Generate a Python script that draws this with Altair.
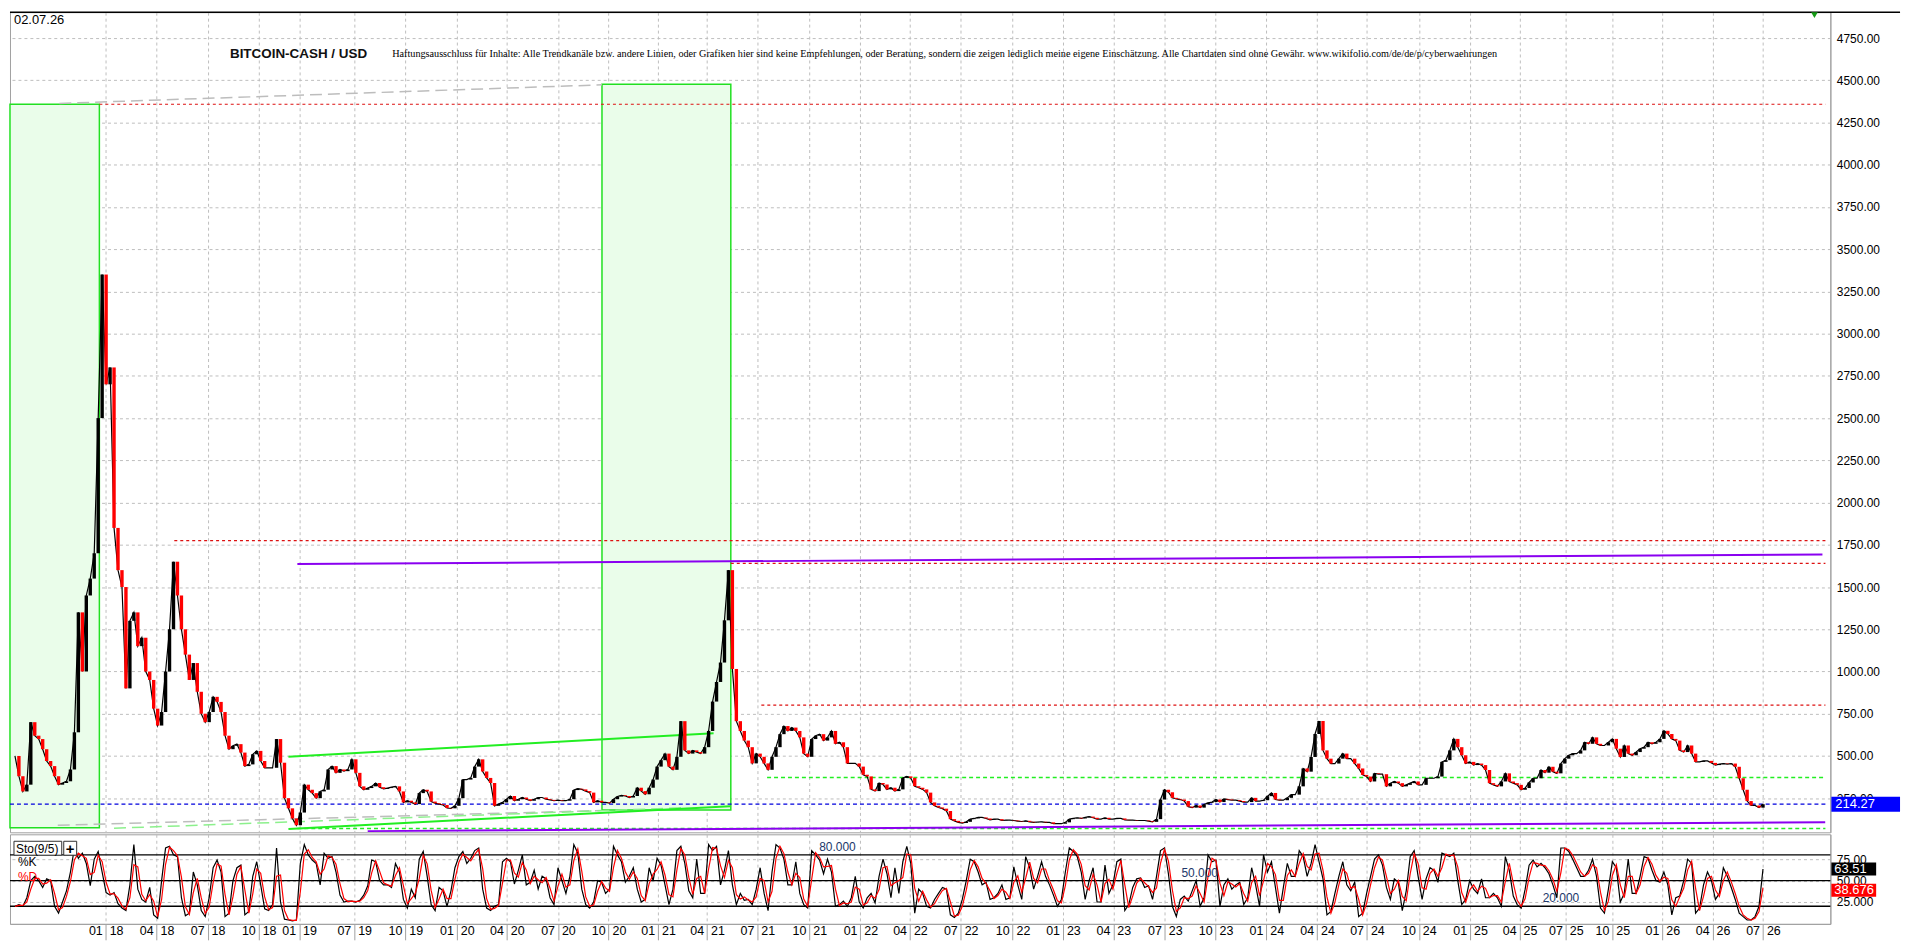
import json
import altair as alt
import pandas as pd

# ---------------- data (one sample ~ every 4 px) ----------------
close = [
    500, 380, 290, 330, 700, 620, 600, 540, 470, 440,
    380, 330, 340, 350, 420, 640, 1350, 1000, 1450, 1550,
    1700, 2500, 3350, 2700, 2800, 1850, 1600, 1500, 900, 1300,
    1350, 1150, 1200, 1000, 950, 780, 680, 760, 1000, 1250,
    1650, 1450, 1250, 1100, 950, 1050, 880, 750, 700, 760,
    850, 820, 760, 620, 540, 560, 570, 520, 440, 450,
    510, 530, 470, 430, 430, 430, 600, 460, 250, 190,
    130, 90, 165, 330, 300, 280, 250, 290, 300, 420,
    440, 400, 420, 410, 420, 480, 400, 320, 300, 310,
    320, 340, 315, 305, 310, 315, 320, 290, 225, 235,
    225, 215, 280, 300, 290, 230, 220, 215, 210, 192,
    190, 205, 250, 360, 360, 370, 437, 480, 408, 370,
    340, 205, 215, 225, 244, 263, 235, 244, 254, 244,
    235, 244, 254, 254, 244, 240, 235, 238, 235, 235,
    244, 298, 306, 302, 292, 283, 225, 235, 225, 225,
    221, 244, 260, 267, 263, 254, 263, 312, 292, 273,
    312, 360, 437, 475, 514, 437, 418, 495, 706, 533,
    514, 533, 523, 514, 552, 648, 822, 938, 1053, 1303,
    1600, 1015, 706, 648, 591, 552, 456, 514, 495, 456,
    418, 495, 552, 629, 677, 648, 668, 648, 610, 514,
    495, 600, 620, 629, 591, 610, 648, 572, 581, 552,
    456, 456, 456, 437, 389, 379, 302, 292, 340, 331,
    302, 312, 292, 302, 370, 379, 370, 321, 312, 302,
    283, 225, 205, 195, 188, 174, 126, 116, 107, 103,
    110, 126, 130, 136, 136, 130, 122, 126, 126, 118,
    120, 120, 118, 114, 112, 116, 110, 107, 109, 110,
    107, 107, 99, 99, 99, 107, 126, 130, 134, 130,
    136, 141, 134, 126, 126, 134, 126, 126, 130, 130,
    122, 120, 120, 118, 118, 118, 114, 110, 126, 242,
    300, 285, 252, 246, 242, 233, 200, 194, 207, 194,
    213, 223, 227, 242, 227, 246, 242, 238, 238, 233,
    227, 227, 252, 233, 233, 238, 262, 281, 242, 238,
    238, 252, 271, 271, 320, 426, 407, 494, 630, 707,
    533, 484, 455, 455, 484, 514, 484, 484, 455, 426,
    388, 378, 349, 397, 393, 392, 320, 339, 349, 339,
    320, 329, 339, 349, 329, 329, 368, 368, 368, 378,
    465, 475, 533, 601, 552, 504, 455, 465, 446, 455,
    446, 417, 339, 329, 320, 349, 397, 349, 339, 329,
    300, 310, 343, 368, 368, 417, 401, 436, 407, 397,
    455, 484, 504, 514, 514, 533, 581, 572, 610, 572,
    562, 562, 581, 601, 543, 494, 562, 514, 504, 523,
    543, 552, 581, 572, 581, 601, 649, 630, 601, 591,
    533, 523, 562, 514, 465, 465, 471, 471, 459, 446,
    452, 455, 452, 455, 436, 368, 300, 233, 207, 207,
    194, 214.27,
]

stoch_k = [
    20, 22, 20, 30, 50, 55, 50, 42, 52, 50,
    20, 12, 25, 38, 60, 88, 76, 82, 70, 44,
    75, 84, 60, 36, 33, 36, 23, 18, 15, 45,
    92, 40, 28, 25, 42, 10, 6, 50, 88, 90,
    80, 78, 30, 9, 12, 60, 45, 15, 8, 30,
    65, 74, 60, 8, 12, 50, 65, 68, 10, 14,
    55, 72, 45, 17, 15, 22, 88, 25, 5, 4,
    3, 4, 70, 92, 80, 74, 70, 45, 82, 76,
    78, 60, 33, 25, 26, 26, 25, 27, 33, 44,
    74, 72, 50, 45, 45, 42, 70, 60, 28, 18,
    40, 30, 75, 84, 55, 22, 15, 42, 38, 20,
    38, 65, 78, 84, 70, 76, 85, 88, 40, 18,
    15, 20, 22, 72, 76, 72, 46, 62, 80, 45,
    48, 62, 40, 55, 52, 30, 22, 65, 50, 35,
    55, 92, 82, 40, 22, 18, 25, 50, 48, 35,
    40, 90, 80, 72, 48, 55, 65, 40, 25, 28,
    65, 50, 76, 68, 45, 22, 40, 85, 90, 70,
    38, 30, 75, 35,
    35, 92, 85, 90, 45, 62, 85, 45, 22, 35,
    27, 28, 22, 40, 65, 35, 15, 60, 92, 88,
    75, 45, 45, 72, 35, 22, 18, 85, 80, 74,
    58, 75, 60, 20, 22, 26, 20, 30, 55, 25,
    18, 30, 35, 24, 55, 75, 58, 30, 65, 35,
    72, 90, 70, 12, 40, 35, 20, 18, 28, 35,
    42, 40, 10, 7, 12, 28, 50, 75, 72, 60,
    45, 48, 28, 30, 35, 45, 28, 30, 66, 45,
    28, 78, 65, 40, 55, 72, 55, 45, 33, 20,
    28, 60, 88, 84, 78, 60, 28, 50, 65, 25,
    25, 68, 35, 45, 72, 75, 15, 22, 42, 52,
    53, 42, 44, 28, 55, 85, 88, 58, 20, 8,
    28, 32, 26, 38, 50, 20, 30, 80, 72, 74,
    20, 45, 52, 40, 45, 48, 22,
    30, 65, 45, 20, 80, 60, 72, 42, 12, 42,
    70, 55, 55, 85, 78, 55, 70, 92, 72, 52,
    10, 14, 35, 55, 72, 45, 38, 48, 8, 12,
    35, 55, 75, 80, 68, 42, 28, 52, 48, 15,
    38, 78, 85, 55, 28, 52, 65, 62, 48, 82,
    80, 78, 82, 50, 22, 28, 50, 40, 35, 52,
    30, 30, 35, 30, 20, 78, 62, 32, 22, 18,
    40, 68, 74, 66, 70, 65, 58, 45, 30, 88,
    88, 84, 75, 65, 55, 55, 62, 75, 55, 18,
    12, 40, 72, 65, 25, 35, 75, 35, 35, 55,
    78, 76, 62, 50, 48, 60, 45, 10, 30, 32,
    50, 75, 70, 12, 18, 45, 60, 50, 28, 35,
    65, 55, 42, 28, 12, 8, 4, 4, 8, 20, 63.51,
]

# quarter ticks (sample index where each quarter starts) and their labels
tick_pos = [22.9, 35.75, 48.6, 61.5, 71.7, 85.6, 98.5, 111.5, 124.1, 137.0,
            149.75, 162.25, 174.6, 187.3, 200.4, 213.3, 225.8, 238.6, 251.7, 264.4,
            277.1, 290.1, 302.9, 315.7, 328.5, 341.1, 354.2, 367.1, 379.6, 391.25,
            403.0, 415.6, 428.3, 441.0]
tick_lab = ["01 18", "04 18", "07 18", "10 18", "01 19", "07 19", "10 19", "01 20", "04 20", "07 20",
            "10 20", "01 21", "04 21", "07 21", "10 21", "01 22", "04 22", "07 22", "10 22", "01 23",
            "04 23", "07 23", "10 23", "01 24", "04 24", "07 24", "10 24", "01 25", "04 25", "07 25",
            "10 25", "01 26", "04 26", "07 26"]

price_ticks = [250, 500, 750, 1000, 1250, 1500, 1750, 2000, 2250, 2500, 2750, 3000,
               3250, 3500, 3750, 4000, 4250, 4500, 4750]
stoch_ticks = [25, 50, 75]
stoch_levels = [20, 50, 80]
stoch_level_text = ["20.000", "50.000", "80.000"]

last_price = 214.27
last_k = 63.51
last_d = 38.676

# drawn objects (index / price coordinates)
zone_x0 = [-1.25, 148.1]
zone_x1 = [21.3, 180.6]
zone_lo = [75, 180]
zone_hi = [4358, 4476]

red_level = [4358, 1775, 1640, 801]
red_start = [21.3, 40.2, 180.6, 188.3]
green_level = [372, 70]
green_start = [189.75, 71.25]
line_end = 456.75

purple_x0 = [71.25, 89]
purple_y0 = [1636, 55]
purple_x1 = [456, 456.7]
purple_y1 = [1693, 108]

trend_x0 = [69, 69]
trend_y0 = [495, 68]
trend_x1 = [176.25, 180.4]
trend_y1 = [635, 202]

grey_x0 = [11.2, 10.8]
grey_y0 = [4363, 90]
grey_x1 = [148.1, 148]
grey_y1 = [4473, 177]

lgreen_x0 = [25]
lgreen_y0 = [72]
lgreen_x1 = [169.5]
lgreen_y1 = [194]

title_text = "BITCOIN-CASH / USD"
date_text = "02.07.26"
disclaimer = ("Haftungsausschluss für Inhalte: Alle Trendkanäle bzw. andere Linien, oder Grafiken hier sind "
              "keine Empfehlungen, oder Beratung, sondern die zeigen lediglich meine eigene Einschätzung. "
              "Alle Chartdaten sind ohne Gewähr.  www.wikifolio.com/de/de/p/cyberwaehrungen")

# ---------------- chart ----------------
W = 1829
H1 = 824
H2 = 90
GRID = "#bdbdbd"
FONT = "Liberation Sans"

n = len(close)
price_df = pd.DataFrame({"i": list(range(n)), "close": close})
stoch_df = pd.DataFrame({"i": list(range(len(stoch_k))), "k": stoch_k})

xs = alt.Scale(domain=[-1.25, 458], nice=False, zero=False)
ys = alt.Scale(domain=[48, 4903], nice=False, zero=False)
ss = alt.Scale(domain=[-0.5, 104], nice=False, zero=False)

x_top_axis = alt.Axis(values=tick_pos, labels=False, ticks=False, domain=False, title=None,
                      grid=True, gridDash=[3, 3], gridColor=GRID, minExtent=0, maxExtent=0)
y_price_axis = alt.Axis(orient="right", values=price_ticks, format=".2f", title=None, grid=True,
                        gridDash=[3, 3], gridColor=GRID, ticks=False, labelPadding=6,
                        domain=True, domainColor="#a0a0a0", labelFontSize=12, labelColor="black",
                        labelFont=FONT)


def PX(field):
    return alt.X(field, type="quantitative", scale=xs, axis=x_top_axis, title=None)


def PY(field):
    return alt.Y(field, type="quantitative", scale=ys, axis=y_price_axis, title=None)


zones = alt.Chart(pd.DataFrame({"x0": zone_x0, "x1": zone_x1, "lo": zone_lo, "hi": zone_hi})).mark_rect(
    fill="#eafdea", stroke="#22e022", strokeWidth=1.5
).encode(x=PX("x0"), x2="x1", y=PY("lo"), y2="hi")

red_df = pd.DataFrame({"lvl": red_level, "s": red_start, "e": [line_end] * len(red_level)})
red_lines = alt.Chart(red_df).mark_rule(color="#dd1111", strokeDash=[3, 3], strokeWidth=1.2).encode(
    x=PX("s"), x2="e", y=PY("lvl"))

green_df = pd.DataFrame({"lvl": green_level, "s": green_start, "e": [line_end] * len(green_level)})
green_lines = alt.Chart(green_df).mark_rule(color="#22ee22", strokeDash=[4, 3], strokeWidth=1.5).encode(
    x=PX("s"), x2="e", y=PY("lvl"))

blue_line = alt.Chart(pd.DataFrame({"lvl": [last_price], "s": [-1.25], "e": [457]})).mark_rule(
    color="#0000dd", strokeDash=[4, 3], strokeWidth=1.3).encode(x=PX("s"), x2="e", y=PY("lvl"))


def seg(x0, y0, x1, y1, **kw):
    df = pd.DataFrame({"x0": x0, "y0": y0, "x1": x1, "y1": y1})
    return alt.Chart(df).mark_rule(**kw).encode(x=PX("x0"), y=PY("y0"), x2="x1", y2="y1")


purple = seg(purple_x0, purple_y0, purple_x1, purple_y1, color="#8a00f0", strokeWidth=2)
trend = seg(trend_x0, trend_y0, trend_x1, trend_y1, color="#22ee22", strokeWidth=2)
grey = seg(grey_x0, grey_y0, grey_x1, grey_y1, color="#bdbdbd", strokeWidth=1.5, strokeDash=[12, 6])
lgreen = seg(lgreen_x0, lgreen_y0, lgreen_x1, lgreen_y1, color="#8cf08c", strokeWidth=1.5, strokeDash=[12, 6])

candle_base = alt.Chart(price_df).transform_window(
    prev="lag(close)", sort=[alt.SortField("i", order="ascending")]
).transform_calculate(open="datum.prev == null ? datum.close : datum.prev")

close_line = alt.Chart(price_df).mark_line(color="black", strokeWidth=1.2).encode(x=PX("i"), y=PY("close"))
candles = candle_base.mark_rule(strokeWidth=3.4, strokeCap="butt").encode(
    x=PX("i"), y=PY("open"), y2="close",
    color=alt.condition("datum.close < datum.open", alt.value("#ff0000"), alt.value("#000000")),
)

price_box = alt.Chart(pd.DataFrame({"v": [last_price]})).mark_rule(
    color="#0000ff", strokeWidth=15, strokeCap="butt").encode(
    x=alt.value(W + 1), x2=alt.value(W + 70), y=PY("v"))
price_box_txt = alt.Chart(pd.DataFrame({"v": [last_price], "t": [f"{last_price:.2f}"]})).mark_text(
    color="white", align="left", baseline="middle", fontSize=13, font=FONT).encode(
    x=alt.value(W + 5), y=PY("v"), text="t:N")

top_border = alt.Chart(pd.DataFrame({"t": [1]})).mark_rule(color="black", strokeWidth=1.5).encode(
    x=alt.value(0), x2=alt.value(W + 70), y=alt.value(0))
date_lbl = alt.Chart(pd.DataFrame({"t": [date_text]})).mark_text(
    align="left", baseline="top", fontSize=13, font=FONT, color="black").encode(
    x=alt.value(4), y=alt.value(2), text="t:N")
title_lbl = alt.Chart(pd.DataFrame({"t": [title_text]})).mark_text(
    align="left", baseline="middle", fontSize=13.5, fontWeight="bold", font=FONT, color="#111111").encode(
    x=alt.value(221), y=alt.value(42), text="t:N")
disc_lbl = alt.Chart(pd.DataFrame({"t": [disclaimer]})).mark_text(
    align="left", baseline="middle", fontSize=10.25, font="Liberation Serif", color="black").encode(
    x=alt.value(384), y=alt.value(42), text="t:N")
marker = alt.Chart(pd.DataFrame({"t": [1]})).mark_point(
    shape="triangle-down", filled=True, color="#169a16", size=45, opacity=1).encode(
    x=alt.value(1813), y=alt.value(3))

price_chart = alt.layer(
    zones, grey, lgreen, red_lines, green_lines, blue_line, purple, trend,
    close_line, candles, price_box, price_box_txt, top_border, date_lbl, title_lbl, disc_lbl, marker,
).properties(width=W, height=H1)

# ---------------- stochastic panel ----------------
lab_expr = "{}[indexof({}, datum.value)]".format(
    json.dumps([t.replace(" ", "\u00a0\u00a0") for t in tick_lab], ensure_ascii=False),
    json.dumps(tick_pos))
x_bottom_axis = alt.Axis(values=tick_pos, labelExpr=lab_expr, title=None, grid=True, gridDash=[3, 3],
                         gridColor=GRID, ticks=True, tickSize=16, tickColor="#a0a0a0",
                         labelPadding=-15, labelBaseline="top", labelFontSize=12.5, labelColor="black",
                         labelFont=FONT, domainColor="#a0a0a0", labelOverlap=False, labelFlush=False)
y_stoch_axis = alt.Axis(orient="right", values=stoch_ticks, title=None, grid=True, gridDash=[3, 3],
                        gridColor=GRID, ticks=False, labelPadding=6, domainColor="#a0a0a0",
                        labelFontSize=12, labelColor="black", labelFont=FONT,
                        labelExpr="datum.value == 25 ? '25.000' : format(datum.value, '.2f')")


def SX(field):
    return alt.X(field, type="quantitative", scale=xs, axis=x_bottom_axis, title=None)


def SY(field):
    return alt.Y(field, type="quantitative", scale=ss, axis=y_stoch_axis, title=None)


levels = alt.Chart(pd.DataFrame({"lvl": stoch_levels})).mark_rule(color="black", strokeWidth=1.4).encode(
    y=SY("lvl"))

stoch_base = alt.Chart(stoch_df).transform_window(
    d="mean(k)", frame=[-1, 0], sort=[alt.SortField("i", order="ascending")])
k_line = stoch_base.mark_line(color="black", strokeWidth=1.2).encode(x=SX("i"), y=SY("k"))
d_line = stoch_base.mark_line(color="#ff0000", strokeWidth=1.2).encode(x=SX("i"), y=SY("d"))

lvl_txt = []
for lv, t, px in zip(stoch_levels, stoch_level_text, [1540, 1177, 813]):
    lvl_txt.append(
        alt.Chart(pd.DataFrame({"lvl": [lv], "t": [t]})).mark_text(
            align="left", baseline="bottom", fontSize=12, font=FONT, color="#22386a", dy=-1).encode(
            x=alt.value(px), y=SY("lvl"), text="t:N"))

k_box = alt.Chart(pd.DataFrame({"v": [last_k]})).mark_rule(
    color="black", strokeWidth=13, strokeCap="butt").encode(x=alt.value(W + 1), x2=alt.value(W + 46), y=SY("v"))
k_box_txt = alt.Chart(pd.DataFrame({"v": [last_k], "t": [f"{last_k:.2f}"]})).mark_text(
    color="white", align="left", baseline="middle", fontSize=13, font=FONT).encode(
    x=alt.value(W + 4), y=SY("v"), text="t:N")
d_box = alt.Chart(pd.DataFrame({"v": [last_d]})).mark_rule(
    color="#ff0000", strokeWidth=13, strokeCap="butt").encode(x=alt.value(W + 1), x2=alt.value(W + 46), y=SY("v"))
d_box_txt = alt.Chart(pd.DataFrame({"v": [last_d], "t": [f"{last_d:.3f}"]})).mark_text(
    color="white", align="left", baseline="middle", fontSize=13, font=FONT).encode(
    x=alt.value(W + 4), y=SY("v"), text="t:N")

sto_box = alt.Chart(pd.DataFrame({"t": ["Sto(9/5)"]})).mark_rect(
    fill="white", stroke="#303030", strokeWidth=1).encode(
    x=alt.value(4), x2=alt.value(52), y=alt.value(7), y2=alt.value(21))
sto_txt = alt.Chart(pd.DataFrame({"t": ["Sto(9/5)"]})).mark_text(
    align="left", baseline="middle", fontSize=12, font=FONT, color="black").encode(
    x=alt.value(6), y=alt.value(14.5), text="t:N")
plus_box = alt.Chart(pd.DataFrame({"t": ["+"]})).mark_rect(
    fill="white", stroke="#303030", strokeWidth=1).encode(
    x=alt.value(54), x2=alt.value(67), y=alt.value(7), y2=alt.value(21))
plus_txt = alt.Chart(pd.DataFrame({"t": ["+"]})).mark_text(
    align="center", baseline="middle", fontSize=15, fontWeight="bold", font=FONT, color="black").encode(
    x=alt.value(60.5), y=alt.value(14.5), text="t:N")
k_lbl = alt.Chart(pd.DataFrame({"t": ["%K"]})).mark_text(
    align="left", baseline="middle", fontSize=12, font=FONT, color="black").encode(
    x=alt.value(8), y=alt.value(28), text="t:N")
d_lbl = alt.Chart(pd.DataFrame({"t": ["%D"]})).mark_text(
    align="left", baseline="middle", fontSize=12, font=FONT, color="#ff0000").encode(
    x=alt.value(8), y=alt.value(43), text="t:N")

stoch_chart = alt.layer(
    levels, k_line, d_line, *lvl_txt, k_box, k_box_txt, d_box, d_box_txt,
    sto_box, sto_txt, plus_box, plus_txt, k_lbl, d_lbl,
).properties(width=W, height=H2)

chart = alt.vconcat(price_chart, stoch_chart, spacing=0).properties(
    padding=0, background="white"
).configure_view(stroke="#a0a0a0", strokeWidth=1).configure_axis(labelFont=FONT)

chart.save("out.html", embed_options={"renderer": "svg", "actions": False})
